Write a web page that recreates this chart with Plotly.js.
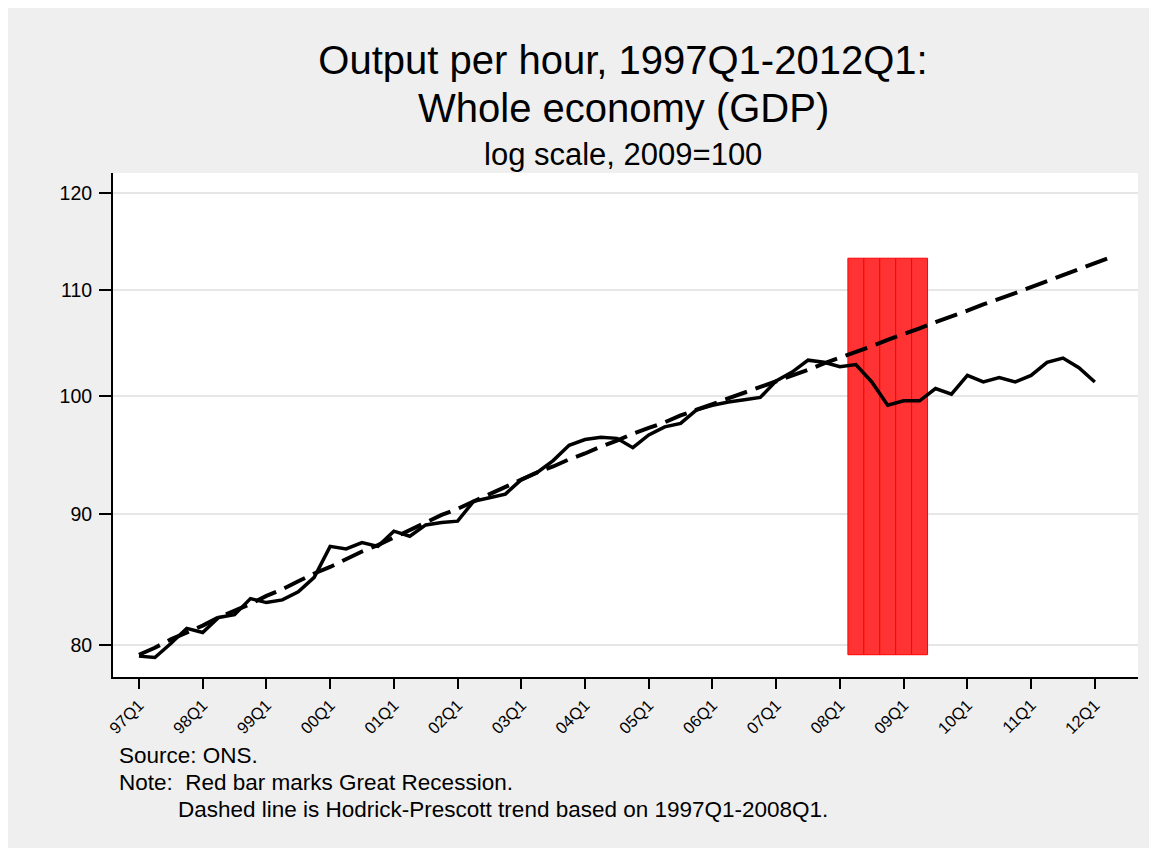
<!DOCTYPE html>
<html>
<head>
<meta charset="utf-8">
<script src="https://cdn.plot.ly/plotly-3.0.1.min.js"></script>
<style>
  html, body { margin: 0; padding: 0; background: #ffffff; width: 1157px; height: 850px; overflow: hidden; }
  #chart { position: absolute; left: 8px; top: 8px; width: 1141px; height: 840px; }
</style>
</head>
<body>
<div id="chart"></div>
<script>
// ---- data ----
const firstYear = 1997;
const tickLabels = ['97Q1','98Q1','99Q1','00Q1','01Q1','02Q1','03Q1','04Q1','05Q1','06Q1','07Q1','08Q1','09Q1','10Q1','11Q1','12Q1'];
// Output per hour, 2009=100, quarterly 1997Q1 - 2012Q1
const outputPerHour = [
  79.2, 79.1, 80.1, 81.2,   80.9, 82.0, 82.2, 83.4,   83.1, 83.3, 83.9, 85.0,
  87.4, 87.2, 87.7, 87.4,   88.6, 88.2, 89.1, 89.3,   89.4, 91.0, 91.3, 91.6,
  92.8, 93.4, 94.4, 95.7,   96.2, 96.4, 96.3, 95.5,   96.6, 97.3, 97.6, 98.8,
  99.2, 99.5, 99.7, 99.9,   101.4, 102.2, 103.3, 103.1, 102.7, 102.9, 101.3, 99.2,
  99.6, 99.6, 100.7, 100.2, 101.9, 101.3, 101.7, 101.3, 101.9, 103.1, 103.5, 102.6,
  101.3
];
// Hodrick-Prescott trend (1997Q1-2008Q1 based), extended to 2012Q2
const hpTrend = [
  79.3, 79.8, 80.4, 80.9,   81.4, 82.0, 82.5, 83.0,   83.6, 84.1, 84.7, 85.3,
  85.8, 86.4, 87.0, 87.5,   88.1, 88.7, 89.3, 89.9,   90.4, 91.0, 91.6, 92.2,
  92.8, 93.4, 93.9, 94.5,   95.0, 95.6, 96.1, 96.7,   97.2, 97.7, 98.3, 98.8,
  99.3, 99.8, 100.3, 100.9, 101.4, 101.9, 102.4, 103.0, 103.5, 104.1, 104.6, 105.2,
  105.7, 106.3, 106.9, 107.4, 108.0, 108.6, 109.1, 109.7, 110.3, 110.9, 111.5, 112.1,
  112.7, 113.3
];
// Great Recession quarters
const recessionQuarters = ['2008Q2','2008Q3','2008Q4','2009Q1','2009Q2'];
const recessionBottom = 79.3;
const recessionTop = 113.2;
const yTickValues = [80, 90, 100, 110, 120];

// ---- helpers ----
function quarterIndex(label) {
  const y = parseInt(label.slice(0, 4), 10);
  const q = parseInt(label.slice(5), 10);
  return (y - firstYear) * 4 + (q - 1);
}
const xLine = outputPerHour.map((_, i) => i);
const xTrend = hpTrend.map((_, i) => i);
const xRec = recessionQuarters.map(quarterIndex);

const traces = [
  {
    type: 'bar',
    x: xRec,
    y: xRec.map(() => recessionTop - recessionBottom),
    base: xRec.map(() => recessionBottom),
    width: xRec.map(() => 1),
    marker: { color: 'rgb(255,51,51)', line: { color: 'rgb(255,0,0)', width: 1 } },
    hoverinfo: 'skip'
  },
  {
    type: 'scatter', mode: 'lines',
    x: xTrend, y: hpTrend,
    line: { color: '#000000', width: 4, dash: '23px,9px' },
    hoverinfo: 'skip'
  },
  {
    type: 'scatter', mode: 'lines',
    x: xLine, y: outputPerHour,
    line: { color: '#000000', width: 3.5 },
    hoverinfo: 'skip'
  }
];

const FONT = 'Liberation Sans, Arial, Helvetica, sans-serif';
const W = 1141, H = 840;
const M = { l: 105, r: 11, t: 165, b: 171 };
const plotH = H - M.t - M.b;
const plotW = W - M.l - M.r;
function py(divY) { return (H - M.b - divY) / plotH; }
function px(divX) { return (divX - M.l) / plotW; }

const layout = {
  width: W, height: H,
  margin: M,
  paper_bgcolor: '#efefef',
  plot_bgcolor: '#ffffff',
  showlegend: false,
  hovermode: false,
  barmode: 'overlay',
  bargap: 0,
  title: {
    text: 'Output per hour, 1997Q1-2012Q1:',
    font: { family: FONT, size: 40, color: '#000' },
    xref: 'paper', x: px(615), xanchor: 'center',
    yref: 'container', y: 1 - 52 / H, yanchor: 'middle'
  },
  xaxis: {
    type: 'linear',
    range: [-1.63, 62.71],
    tickvals: tickLabels.map((_, i) => i * 4),
    ticktext: tickLabels,
    tickangle: -45,
    ticks: 'outside', ticklen: 10, tickwidth: 2, tickcolor: '#000',
    showline: true, linecolor: '#000', linewidth: 2,
    showgrid: false, zeroline: false,
    tickfont: { family: FONT, size: 16.5, color: '#000' }
  },
  yaxis: {
    type: 'log',
    range: [Math.log10(77.73), Math.log10(122.2)],
    tickvals: yTickValues,
    ticktext: yTickValues.map(String),
    ticks: 'outside', ticklen: 12, tickwidth: 2, tickcolor: '#000',
    showline: true, linecolor: '#000', linewidth: 2,
    showgrid: true, gridcolor: '#e6e6e6', gridwidth: 2,
    zeroline: false,
    ticklabelstandoff: 3,
    tickfont: { family: FONT, size: 19.5, color: '#000' }
  },
  annotations: [
    { text: 'Whole economy (GDP)', xref: 'paper', yref: 'paper', x: px(615), y: py(100),
      xanchor: 'center', yanchor: 'middle', showarrow: false,
      font: { family: FONT, size: 40, color: '#000' } },
    { text: 'log scale, 2009=100', xref: 'paper', yref: 'paper', x: px(615), y: py(147),
      xanchor: 'center', yanchor: 'middle', showarrow: false,
      font: { family: FONT, size: 31, color: '#000' } },
    { text: 'Source: ONS.', xref: 'paper', yref: 'paper', x: px(109), y: py(747),
      xanchor: 'left', yanchor: 'middle', showarrow: false,
      font: { family: FONT, size: 22.5, color: '#000' } },
    { text: 'Note:  Red bar marks Great Recession.', xref: 'paper', yref: 'paper', x: px(109), y: py(774),
      xanchor: 'left', yanchor: 'middle', showarrow: false,
      font: { family: FONT, size: 22.5, color: '#000' } },
    { text: 'Dashed line is Hodrick-Prescott trend based on 1997Q1-2008Q1.', xref: 'paper', yref: 'paper', x: px(168), y: py(801),
      xanchor: 'left', yanchor: 'middle', showarrow: false,
      font: { family: FONT, size: 22.5, color: '#000' } }
  ]
};

Plotly.newPlot('chart', traces, layout, { staticPlot: true, displayModeBar: false });
</script>
</body>
</html>
